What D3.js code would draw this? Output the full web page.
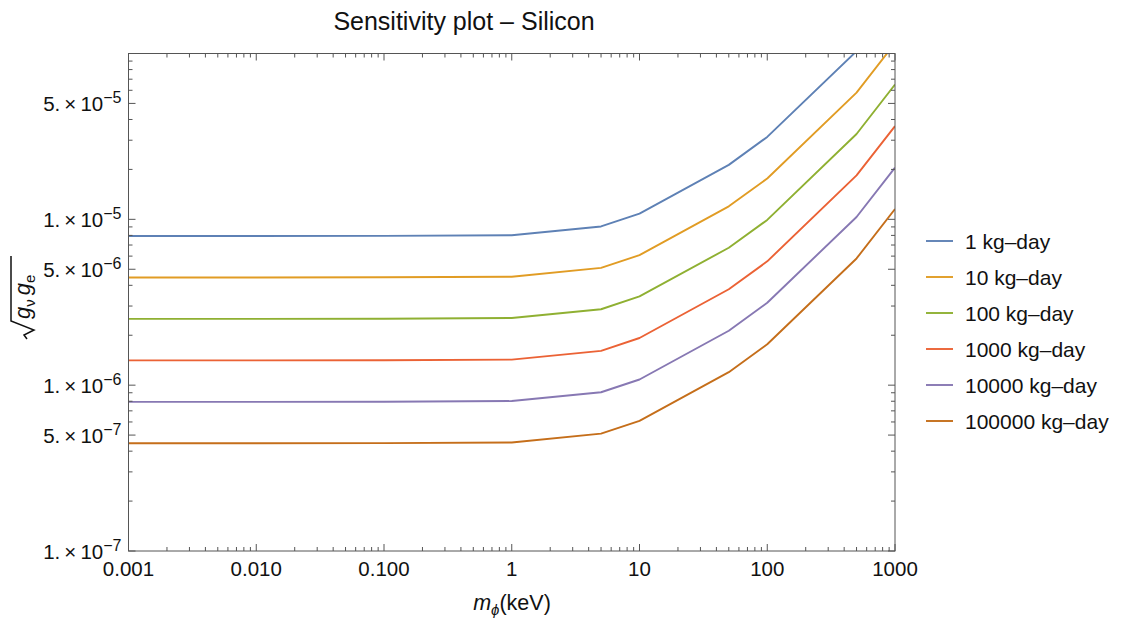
<!DOCTYPE html>
<html>
<head>
<meta charset="utf-8">
<script src="https://cdn.jsdelivr.net/npm/d3@7"></script>
<style>
  body { margin: 0; background: #fff; }
  svg { font-family: "Liberation Sans", Arial, sans-serif; }
  .tick-label { font-size: 20.5px; fill: #111; }
</style>
</head>
<body>
<svg id="chart" width="1127" height="627"></svg>
<script>
// Data
const masses = [0.001, 0.01, 0.1, 1, 5, 10, 50, 100, 500, 1000];
const exposures = ['1 kg–day', '10 kg–day', '100 kg–day', '1000 kg–day', '10000 kg–day', '100000 kg–day'];
const colors = ['#5E81B5', '#E19C24', '#8FB032', '#EB6235', '#8778B3', '#C56E1A'];

const s1 = [7.93e-6, 7.93e-6, 7.95e-6, 8.02e-6, 9.06e-6, 1.082e-5, 2.13e-5, 3.14e-5, 1.033e-4, 2.05e-4];
const s10 = [4.46e-6, 4.46e-6, 4.47e-6, 4.51e-6, 5.10e-6, 6.09e-6, 1.198e-5, 1.764e-5, 5.81e-5, 1.154e-4];
const s100 = [2.51e-6, 2.51e-6, 2.515e-6, 2.54e-6, 2.87e-6, 3.43e-6, 6.74e-6, 9.92e-6, 3.27e-5, 6.50e-5];
const s1000 = [1.41e-6, 1.41e-6, 1.413e-6, 1.426e-6, 1.61e-6, 1.925e-6, 3.79e-6, 5.58e-6, 1.84e-5, 3.65e-5];
const s10000 = [7.93e-7, 7.93e-7, 7.95e-7, 8.02e-7, 9.06e-7, 1.082e-6, 2.13e-6, 3.14e-6, 1.033e-5, 2.05e-5];
const s100000 = [4.46e-7, 4.46e-7, 4.47e-7, 4.51e-7, 5.10e-7, 6.09e-7, 1.198e-6, 1.764e-6, 5.81e-6, 1.154e-5];
const seriesValues = [s1, s10, s100, s1000, s10000, s100000];

const xTickValues = [0.001, 0.01, 0.1, 1, 10, 100, 1000];
const xTickLabels = ['0.001', '0.010', '0.100', '1', '10', '100', '1000'];
const yTickValues = [1e-7, 5e-7, 1e-6, 5e-6, 1e-5, 5e-5];
const yTickMant = ['1.', '5.', '1.', '5.', '1.', '5.'];
const yTickExp = ['−7', '−7', '−6', '−6', '−5', '−5'];

const svg = d3.select('#chart');
const pLeft = 128.5, pRight = 895, pTop = 53.5, pBottom = 551;

const x = d3.scaleLog().domain([0.001, 1000]).range([pLeft, pRight]);
const y = d3.scaleLog().domain([1e-7, 1e-4]).range([pBottom, pTop]);

// minor ticks (2..9 in each decade)
const minorX = [];
for (let d = -3; d < 3; d++) for (let m = 2; m <= 9; m++) minorX.push(m * Math.pow(10, d));
const minorY = [];
for (let d = -7; d < -4; d++) for (let m = 2; m <= 9; m++) if (m !== 5) minorY.push(m * Math.pow(10, d));

// clip
svg.append('clipPath').attr('id', 'clip')
  .append('rect').attr('x', pLeft).attr('y', pTop).attr('width', pRight - pLeft).attr('height', pBottom - pTop);

// lines
const line = d3.line()
  .x((d, i) => x(masses[i]))
  .y(d => y(d));

svg.append('g').attr('clip-path', 'url(#clip)')
  .selectAll('path')
  .data(seriesValues)
  .join('path')
  .attr('fill', 'none')
  .attr('stroke', (d, i) => colors[i])
  .attr('stroke-width', 1.9)
  .attr('stroke-linejoin', 'round')
  .attr('d', line);

// frame
const frameColor = '#555';
svg.append('rect')
  .attr('x', pLeft).attr('y', pTop)
  .attr('width', pRight - pLeft).attr('height', pBottom - pTop)
  .attr('fill', 'none').attr('stroke', frameColor).attr('stroke-width', 1);

const ticks = svg.append('g').attr('stroke', frameColor).attr('stroke-width', 1);
function xTicks(vals, len) {
  vals.forEach(v => {
    const px = x(v);
    ticks.append('line').attr('x1', px).attr('x2', px).attr('y1', pBottom).attr('y2', pBottom - len);
    ticks.append('line').attr('x1', px).attr('x2', px).attr('y1', pTop).attr('y2', pTop + len);
  });
}
function yTicks(vals, len) {
  vals.forEach(v => {
    const py = y(v);
    ticks.append('line').attr('x1', pLeft).attr('x2', pLeft + len).attr('y1', py).attr('y2', py);
    ticks.append('line').attr('x1', pRight).attr('x2', pRight - len).attr('y1', py).attr('y2', py);
  });
}
xTicks(xTickValues, 7);
xTicks(minorX.filter(v => v < 1000), 4);
yTicks(yTickValues.concat([1e-4]), 7);
yTicks(minorY, 4);

// x tick labels
svg.append('g').selectAll('text')
  .data(xTickValues)
  .join('text')
  .attr('class', 'tick-label')
  .attr('x', d => x(d))
  .attr('y', pBottom + 25)
  .attr('text-anchor', 'middle')
  .text((d, i) => xTickLabels[i]);

// y tick labels
const yl = svg.append('g').selectAll('text')
  .data(yTickValues)
  .join('text')
  .attr('class', 'tick-label')
  .attr('x', pLeft - 7)
  .attr('y', d => y(d) + 7.5)
  .attr('text-anchor', 'end');
yl.append('tspan').text((d, i) => yTickMant[i] + '\u2009×\u200910');
yl.append('tspan').attr('dy', -8).attr('font-size', 16).text((d, i) => yTickExp[i]);

// title
svg.append('text')
  .attr('x', 464).attr('y', 30)
  .attr('text-anchor', 'middle')
  .attr('font-size', 25).attr('fill', '#111')
  .text('Sensitivity plot – Silicon');

// x axis label
const xl = svg.append('text')
  .attr('x', 512).attr('y', 610)
  .attr('text-anchor', 'middle')
  .attr('font-size', 21.5).attr('fill', '#111');
xl.append('tspan').attr('font-style', 'italic').text('m');
xl.append('tspan').attr('font-size', 15).attr('font-style', 'italic').attr('dy', 5).text('ϕ');
xl.append('tspan').attr('dy', -5).text('(keV)');

// y axis label (rotated, with radical)
const yg = svg.append('g').attr('transform', 'translate(30,289) rotate(-90)');
const yt = yg.append('text')
  .attr('x', -30).attr('y', 0)
  .attr('font-size', 22).attr('fill', '#111');
yt.append('tspan').attr('font-style', 'italic').text('g');
yt.append('tspan').attr('font-size', 15).attr('dy', 5).text('ν');
yt.append('tspan').attr('font-style', 'italic').attr('dy', -5).attr('dx', 4).text('g');
yt.append('tspan').attr('font-size', 15).attr('dy', 5).text('e');
yg.append('path')
  .attr('d', 'M-50,-3 L-46,-6 L-41,4 L-32,-19 L33,-19')
  .attr('fill', 'none').attr('stroke', '#111').attr('stroke-width', 1.5)
  .attr('stroke-linejoin', 'miter');

// legend
const legend = svg.append('g').attr('transform', 'translate(926,241)');
const rows = legend.selectAll('g')
  .data(exposures)
  .join('g')
  .attr('transform', (d, i) => `translate(0,${i * 36})`);
rows.append('line')
  .attr('x1', 0).attr('x2', 27).attr('y1', 0).attr('y2', 0)
  .attr('stroke', (d, i) => colors[i]).attr('stroke-width', 1.9);
rows.append('text')
  .attr('x', 39).attr('y', 7.5)
  .attr('font-size', 21).attr('fill', '#111')
  .text(d => d);
</script>
</body>
</html>
